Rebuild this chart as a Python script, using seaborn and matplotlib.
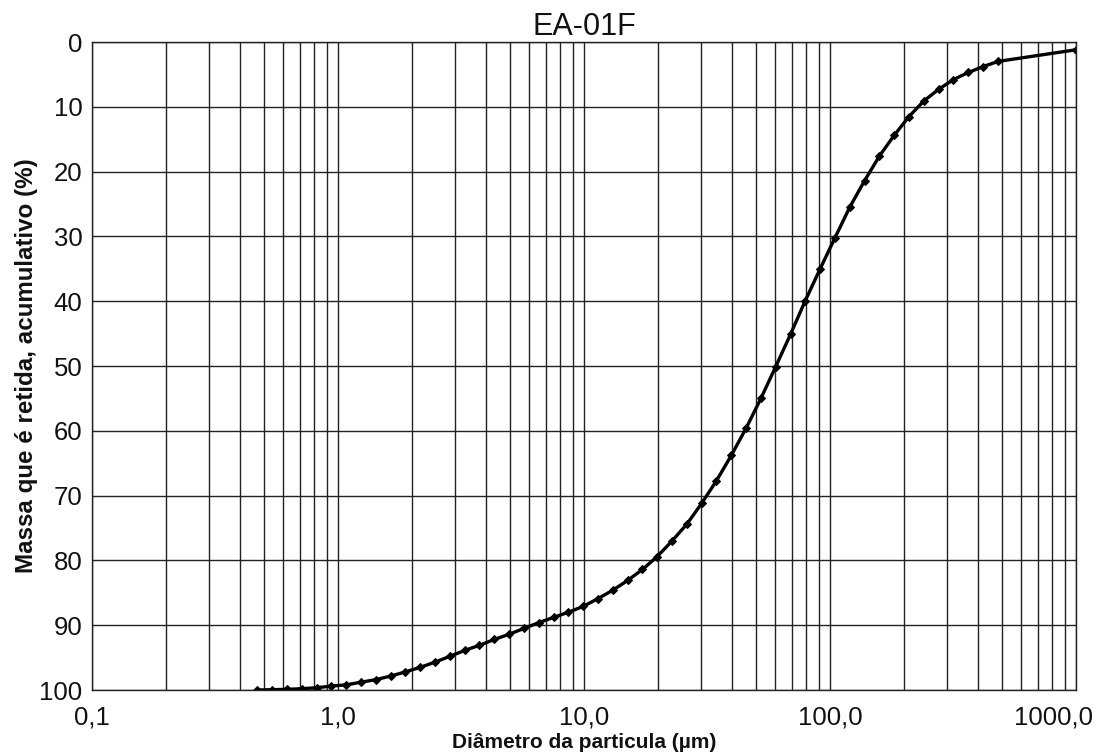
import matplotlib
matplotlib.use("Agg")
import matplotlib.pyplot as plt
import matplotlib.ticker as mticker
import matplotlib.transforms as mtransforms
import seaborn as sns
import pandas as pd

# Particle diameter (µm)
diametro = [0.470, 0.540, 0.620, 0.712, 0.818, 0.940, 1.080, 1.240, 1.425, 1.637,
            1.88, 2.16, 2.48, 2.85, 3.27, 3.76, 4.32, 4.96, 5.70, 6.55,
            7.52, 8.64, 9.92, 11.40, 13.09, 15.04, 17.28, 19.85, 22.80, 26.19,
            30.08, 34.56, 39.70, 45.60, 52.38, 60.16, 69.11, 79.39, 91.20, 104.8,
            120.3, 138.2, 158.8, 182.4, 209.5, 240.6, 276.4, 317.6, 364.8, 419.1,
            481.3, 1000.0]
# Cumulative retained mass (%)
retida = [100.0, 99.95, 99.9, 99.8, 99.65, 99.4, 99.2, 98.8, 98.4, 97.85,
          97.2, 96.5, 95.7, 94.8, 93.9, 93.1, 92.2, 91.4, 90.5, 89.6,
          88.8, 88.0, 87.1, 85.9, 84.6, 83.1, 81.4, 79.4, 77.0, 74.4,
          71.2, 67.7, 63.8, 59.6, 55.0, 50.1, 45.1, 39.9, 35.0, 30.2,
          25.5, 21.4, 17.6, 14.4, 11.5, 9.1, 7.3, 5.8, 4.7, 3.8,
          3.0, 1.2]

x_ticks = [0.1, 1, 10, 100, 1000]
x_tick_labels = ["0,1", "1,0", "10,0", "100,0", "1000,0"]
y_ticks = [0, 10, 20, 30, 40, 50, 60, 70, 80, 90, 100]

titulo = "EA-01F"
x_label = "Diâmetro da particula (µm)"
y_label = "Massa que é retida, acumulativo (%)"

sns.set_style("white")
plt.rcParams["font.family"] = ["Liberation Sans", "DejaVu Sans"]

df = pd.DataFrame({"d": diametro, "m": retida})

fig = plt.figure(figsize=(10.97, 7.53), dpi=100)
ax = fig.add_axes([92 / 1097, 1 - 690 / 753, (1076 - 92) / 1097, (690 - 42) / 753])

sns.lineplot(data=df, x="d", y="m", ax=ax, color="black", linewidth=2.4,
             marker="D", markersize=4.5, markeredgecolor="black",
             estimator=None, sort=False)

ax.set_xscale("log")
ax.set_xlim(0.1, 1000)
ax.set_ylim(100, 0)

ax.set_xticks(x_ticks)
ax.set_xticklabels(x_tick_labels)
ax.xaxis.set_minor_locator(mticker.LogLocator(base=10, subs=range(2, 10), numticks=20))
ax.xaxis.set_minor_formatter(mticker.NullFormatter())
ax.set_yticks(y_ticks)

ax.grid(True, which="major", axis="both", color="#222222", linewidth=1.0)
ax.grid(True, which="minor", axis="x", color="#222222", linewidth=1.0)

ax.tick_params(axis="both", which="major", direction="out", length=4, width=1,
               color="#222222", labelsize=18.5, labelcolor="#111111")
ax.tick_params(axis="x", which="major", pad=7)
ax.tick_params(axis="y", which="major", pad=3)
ax.tick_params(axis="x", which="minor", length=0)

# shift the last x label left so it stays inside the figure
last = ax.get_xticklabels()[-1]
last.set_transform(last.get_transform() +
                   mtransforms.ScaledTranslation(-22 / 100, 0, fig.dpi_scale_trans))

for s in ax.spines.values():
    s.set_color("#222222")
    s.set_linewidth(1.0)

ax.set_title(titulo, fontsize=22, pad=5, color="#111111")
ax.set_xlabel(x_label, fontsize=15, fontweight="bold", labelpad=3, color="#111111")
ax.set_ylabel(y_label, fontsize=17.4, fontweight="bold", labelpad=1, color="#111111")

fig.savefig("out.png", dpi=100)
